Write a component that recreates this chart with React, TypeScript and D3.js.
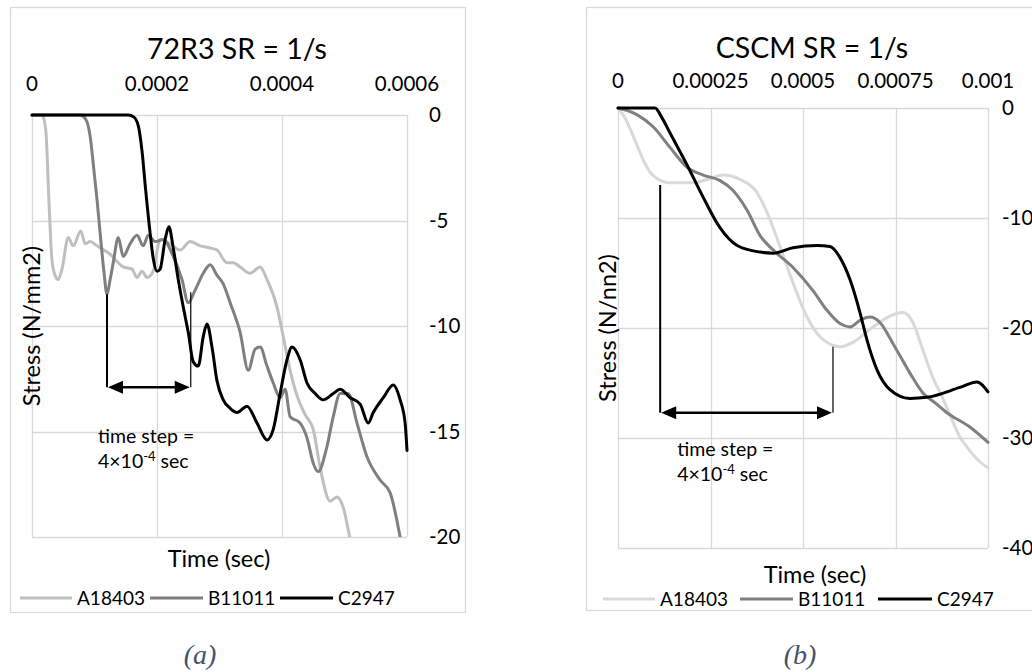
import React, { useEffect, useRef } from "react";
import * as d3 from "d3";

const seriesNames = ["A18403", "B11011", "C2947"];

// (a) 72R3 SR = 1/s  — time in microseconds, stress in N/mm2
const r3TimeA = [0, 16, 22, 27, 32, 37, 42, 48, 58, 66, 78, 85, 93, 104, 125, 146, 160, 168, 176, 184, 194, 205, 221, 237, 253, 269, 285, 296, 312, 322, 333, 349, 365, 376, 392, 402, 413, 424, 437, 450, 461, 477, 488, 498, 509, 514];
const r3StressA = [0, 0, -0.7, -4.0, -6.9, -7.6, -7.8, -7.3, -5.8, -6.2, -5.5, -6.1, -6.0, -6.2, -6.6, -7.2, -7.3, -7.7, -7.4, -7.7, -7.4, -5.9, -6.1, -6.4, -6.0, -6.2, -6.3, -6.4, -7.0, -7.0, -7.2, -7.5, -7.2, -7.8, -9.1, -10.5, -12.1, -13.3, -14.2, -14.9, -16.7, -18.3, -18.1, -18.6, -20.1, -20.8];
const r3TimeB = [0, 77, 86, 93, 99, 104, 109, 115, 120, 125, 130, 138, 146, 157, 168, 178, 186, 197, 210, 226, 240, 250, 261, 274, 285, 296, 306, 317, 333, 346, 357, 365, 376, 386, 397, 405, 413, 429, 440, 450, 458, 472, 482, 493, 506, 520, 536, 557, 573, 589, 594];
const r3StressB = [0, 0, -0.2, -1.0, -2.6, -4.0, -5.6, -7.4, -8.5, -7.8, -7.0, -5.8, -6.7, -6.1, -5.7, -6.2, -5.7, -6.0, -5.9, -6.7, -7.8, -8.9, -8.3, -7.5, -7.1, -7.6, -8.0, -8.9, -10.3, -12.1, -11.1, -11.0, -11.9, -12.7, -13.4, -13.0, -14.3, -14.6, -15.3, -16.5, -16.9, -15.7, -14.3, -13.2, -13.2, -14.6, -16.2, -17.3, -17.9, -20.0, -20.8];
const r3TimeC = [0, 154, 163, 170, 176, 182, 189, 194, 200, 205, 213, 219, 226, 234, 242, 250, 258, 266, 274, 280, 288, 296, 306, 317, 328, 344, 360, 376, 386, 397, 408, 416, 429, 440, 453, 466, 482, 493, 509, 525, 538, 546, 562, 578, 589, 597, 600];
const r3StressC = [0, 0, -0.1, -0.5, -1.7, -3.6, -5.6, -6.8, -7.4, -7.3, -5.9, -5.3, -6.3, -7.8, -9.1, -10.3, -11.7, -11.9, -10.5, -9.9, -11.0, -12.6, -13.5, -13.9, -14.1, -13.8, -14.6, -15.4, -14.9, -13.2, -11.6, -11.0, -11.6, -12.7, -13.2, -13.5, -13.2, -13.0, -13.4, -13.7, -14.6, -14.1, -13.4, -12.8, -13.5, -14.6, -15.9];
const r3XTicks = [0, 0.0002, 0.0004, 0.0006];
const r3XLabels = ["0", "0.0002", "0.0004", "0.0006"];
const r3YTicks = [0, -5, -10, -15, -20];
const r3YLabels = ["0", "-5", "-10", "-15", "-20"];

// (b) CSCM SR = 1/s
const csTimeA = [0, 19, 38, 68, 86, 105, 141, 203, 241, 284, 330, 376, 403, 438, 473, 511, 546, 600, 635, 689, 743, 770, 797, 824, 851, 878, 897, 924, 943, 973, 1000];
const csStressA = [0, -0.9, -2.3, -4.7, -5.8, -6.4, -6.8, -6.8, -6.5, -6.1, -6.5, -7.7, -9.5, -12.6, -15.9, -19.0, -20.8, -21.7, -21.3, -19.9, -18.8, -18.6, -19.5, -22.0, -24.5, -26.4, -27.9, -29.9, -30.8, -32.0, -32.7];
const csTimeB = [0, 51, 95, 141, 187, 230, 276, 311, 349, 384, 419, 473, 527, 565, 600, 627, 654, 681, 708, 743, 789, 824, 857, 889, 951, 1000];
const csStressB = [0, -0.6, -1.7, -3.6, -5.4, -6.1, -6.6, -7.5, -9.3, -11.6, -12.9, -14.5, -16.6, -18.4, -19.6, -19.9, -19.3, -19.0, -19.5, -21.4, -24.1, -25.9, -26.8, -27.7, -29.0, -30.4];
const csTimeC = [0, 100, 119, 141, 187, 230, 276, 322, 384, 419, 473, 538, 573, 600, 627, 654, 673, 700, 735, 789, 835, 924, 970, 1000];
const csStressC = [0, 0, -0.9, -2.3, -5.2, -8.1, -10.9, -12.5, -13.1, -13.2, -12.7, -12.5, -12.6, -13.6, -15.6, -18.6, -21.1, -23.8, -25.6, -26.4, -26.3, -25.4, -24.9, -25.8];
const csXTicks = [0, 0.00025, 0.0005, 0.00075, 0.001];
const csXLabels = ["0", "0.00025", "0.0005", "0.00075", "0.001"];
const csYTicks = [0, -10, -20, -30, -40];
const csYLabels = ["0", "-10", "-20", "-30", "-40"];

// time-step annotation: [t start µs, t end µs, arrow stress, left top, right top]
const r3Step = [120, 254, -12.9, -8.5, -8.4];
const csStep = [114, 581, -27.7, -7.0, -21.7];

const FONT = "Lato, 'Open Sans', sans-serif";

function drawPanel(svg, p) {
  const g = svg.append("g");
  g.append("rect")
    .attr("x", p.frame[0] + 0.5)
    .attr("y", p.frame[1] + 0.5)
    .attr("width", p.frame[2])
    .attr("height", p.frame[3])
    .attr("fill", "#fff")
    .attr("stroke", "#d9d9d9")
    .attr("stroke-width", 1.3);

  const x = d3.scaleLinear().domain([p.xTicks[0], p.xTicks[p.xTicks.length - 1]]).range([p.left, p.right]);
  const y = d3.scaleLinear().domain([p.yTicks[p.yTicks.length - 1], 0]).range([p.bottom, p.top]);

  // grid
  g.selectAll(".vg").data(p.xTicks).enter().append("line")
    .attr("x1", d => Math.round(x(d)) + 0.5).attr("x2", d => Math.round(x(d)) + 0.5)
    .attr("y1", p.top).attr("y2", p.bottom)
    .attr("stroke", "#d9d9d9").attr("stroke-width", 1.3);
  g.selectAll(".hg").data(p.yTicks).enter().append("line")
    .attr("y1", d => Math.round(y(d)) + 0.5).attr("y2", d => Math.round(y(d)) + 0.5)
    .attr("x1", p.left).attr("x2", p.right)
    .attr("stroke", "#d9d9d9").attr("stroke-width", 1.3);

  // tick labels (top axis, right axis)
  g.selectAll(".xl").data(p.xTicks).enter().append("text")
    .attr("x", d => x(d)).attr("y", p.xLabelY)
    .attr("text-anchor", "middle")
    .attr("font-family", FONT).attr("font-size", p.tickSize)
    .text((d, i) => p.xLabels[i]);
  g.selectAll(".yl").data(p.yTicks).enter().append("text")
    .attr("x", p.yLabelX).attr("y", d => y(d)).attr("dy", "0.36em")
    .attr("font-family", FONT).attr("font-size", p.tickSize)
    .text((d, i) => p.yLabels[i]);

  // series
  const clipId = "clip-" + p.id;
  svg.append("clipPath").attr("id", clipId).append("rect")
    .attr("x", p.left - 4).attr("y", p.top - 4)
    .attr("width", p.right - p.left + 6).attr("height", p.bottom - p.top + 4);
  const line = d3.line().x(d => x(d[0] * 1e-6)).y(d => y(d[1])).curve(d3.curveMonotoneX);
  const lg = g.append("g").attr("clip-path", `url(#${clipId})`);
  p.series.forEach((s, i) => {
    const pts = s.time.map((t, j) => [t, s.stress[j]]);
    lg.append("path").attr("d", line(pts)).attr("fill", "none")
      .attr("stroke", p.colors[i]).attr("stroke-width", 3)
      .attr("stroke-linejoin", "round").attr("stroke-linecap", "round");
  });

  // time step annotation
  const [t0, t1, sa, sl, sr] = p.step;
  const ax0 = x(t0 * 1e-6), ax1 = x(t1 * 1e-6), ay = y(sa);
  g.append("line").attr("x1", ax0).attr("x2", ax0).attr("y1", y(sl)).attr("y2", ay)
    .attr("stroke", "#000").attr("stroke-width", 2);
  g.append("line").attr("x1", ax1).attr("x2", ax1).attr("y1", y(sr)).attr("y2", ay)
    .attr("stroke", "#000").attr("stroke-width", 1.2);
  g.append("line").attr("x1", ax0 + 12).attr("x2", ax1 - 12).attr("y1", ay).attr("y2", ay)
    .attr("stroke", "#000").attr("stroke-width", 2.5);
  g.append("path").attr("d", `M${ax0 + 1},${ay}L${ax0 + 16},${ay - 6.5}L${ax0 + 16},${ay + 6.5}Z`).attr("fill", "#000");
  g.append("path").attr("d", `M${ax1 - 1},${ay}L${ax1 - 16},${ay - 6.5}L${ax1 - 16},${ay + 6.5}Z`).attr("fill", "#000");
  const tx = ax0 + p.noteDx;
  g.append("text").attr("x", tx).attr("y", ay + p.noteDy)
    .attr("font-family", FONT).attr("font-size", 19.5).text("time step =");
  const t2 = g.append("text").attr("x", tx).attr("y", ay + p.noteDy + 25)
    .attr("font-family", FONT).attr("font-size", 19.5);
  t2.append("tspan").text("4×10");
  t2.append("tspan").attr("dy", -7).attr("font-size", 13).text("-4");
  t2.append("tspan").attr("dy", 7).text(" sec");

  // titles
  g.append("text").attr("x", p.titleX).attr("y", p.titleY).attr("text-anchor", "middle")
    .attr("font-family", FONT).attr("font-size", 28.5).text(p.title);
  g.append("text").attr("x", p.xTitleX).attr("y", p.xTitleY).attr("text-anchor", "middle")
    .attr("font-family", FONT).attr("font-size", 23.5).text("Time (sec)");
  g.append("text")
    .attr("transform", `translate(${p.yTitleX},${(p.top + p.bottom) / 2}) rotate(-90)`)
    .attr("text-anchor", "middle")
    .attr("font-family", FONT).attr("font-size", 23.5).text(p.yTitle);

  // legend
  p.legend.forEach((l, i) => {
    g.append("line").attr("x1", l[0]).attr("x2", l[1]).attr("y1", p.legendY).attr("y2", p.legendY)
      .attr("stroke", p.colors[i]).attr("stroke-width", 3);
    g.append("text").attr("x", l[2]).attr("y", p.legendY).attr("dy", "0.36em")
      .attr("font-family", FONT).attr("font-size", 19).text(seriesNames[i]);
  });
}

export default function App() {
  const ref = useRef(null);
  useEffect(() => {
    document.body.style.margin = "0";
    const svg = d3.select(ref.current);
    svg.selectAll("*").remove();

    drawPanel(svg, {
      id: "a",
      frame: [10, 7, 455, 605],
      left: 32, right: 407, top: 115, bottom: 537,
      xTicks: r3XTicks, xLabels: r3XLabels, yTicks: r3YTicks, yLabels: r3YLabels,
      xLabelY: 91, yLabelX: 429, tickSize: 20.5,
      series: [
        { time: r3TimeA, stress: r3StressA },
        { time: r3TimeB, stress: r3StressB },
        { time: r3TimeC, stress: r3StressC },
      ],
      colors: ["#bfbfbf", "#7f7f7f", "#000000"],
      step: r3Step, noteDx: -9, noteDy: 56,
      title: "72R3 SR = 1/s", titleX: 237, titleY: 59,
      xTitleX: 219, xTitleY: 567,
      yTitle: "Stress (N/mm2)", yTitleX: 40,
      legend: [[20, 72, 77], [150, 203, 208], [280, 333, 338]], legendY: 598,
    });

    drawPanel(svg, {
      id: "b",
      frame: [586, 7, 452, 603],
      left: 618, right: 988, top: 108, bottom: 548,
      xTicks: csXTicks, xLabels: csXLabels, yTicks: csYTicks, yLabels: csYLabels,
      xLabelY: 88, yLabelX: 1002, tickSize: 20.5,
      series: [
        { time: csTimeA, stress: csStressA },
        { time: csTimeB, stress: csStressB },
        { time: csTimeC, stress: csStressC },
      ],
      colors: ["#d9d9d9", "#808080", "#000000"],
      step: csStep, noteDx: 17, noteDy: 43,
      title: "CSCM SR = 1/s", titleX: 812, titleY: 58,
      xTitleX: 815, xTitleY: 583,
      yTitle: "Stress (N/nn2)", yTitleX: 616,
      legend: [[603, 655, 660], [740, 793, 798], [878, 932, 937]], legendY: 599,
    });

    ["(a)", "(b)"].forEach((c, i) => {
      svg.append("text").attr("x", i === 0 ? 200 : 800).attr("y", 664)
        .attr("text-anchor", "middle")
        .attr("font-family", "'Liberation Serif', 'DejaVu Serif', serif")
        .attr("font-style", "italic").attr("font-size", 28)
        .attr("fill", "#44546a").text(c);
    });
  }, []);
  return <svg ref={ref} width={1032} height={672} style={{ display: "block", background: "#fff" }} />;
}
